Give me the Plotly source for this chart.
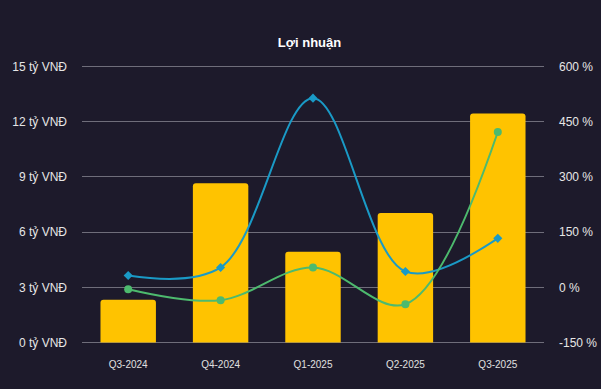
import plotly.graph_objects as go

categories = ["Q3-2024", "Q4-2024", "Q1-2025", "Q2-2025", "Q3-2025"]
profit = [2.33, 8.66, 4.93, 7.04, 12.45]          # tỷ VNĐ
growth_blue = [32, 54, 514, 43, 133]                # %
growth_green = [-5, -35, 54, -46, 422]              # %

left_ticks = [0, 3, 6, 9, 12, 15]
left_labels = [f"{v} tỷ VNĐ" for v in left_ticks]
right_ticks = [-150, 0, 150, 300, 450, 600]
right_labels = [f"{v} %" for v in right_ticks]

BG = "#1d1a2b"
GRID = "#6f6d7a"
fig = go.Figure()
fig.add_trace(go.Bar(x=categories, y=profit, marker=dict(color="#FFC300", line=dict(width=0)),
                     width=0.6, yaxis="y", hoverinfo="skip"))
fig.add_trace(go.Scatter(x=categories, y=growth_blue, yaxis="y2", mode="lines+markers",
                         line=dict(color="#1a9ac6", width=2, shape="spline", smoothing=1.0),
                         marker=dict(symbol="diamond", size=7, color="#1a9ac6")))
fig.add_trace(go.Scatter(x=categories, y=growth_green, yaxis="y2", mode="lines+markers",
                         line=dict(color="#4dba6e", width=2, shape="spline", smoothing=1.0),
                         marker=dict(symbol="circle", size=8, color="#4dba6e")))

fig.update_layout(
    width=601, height=389,
    paper_bgcolor=BG, plot_bgcolor=BG,
    showlegend=False,
    barcornerradius=3,
    margin=dict(l=82, r=57, t=65, b=45, autoexpand=False),
    font=dict(family="Arial, Liberation Sans, sans-serif", color="#e6e6e6"),
    title=dict(text="<b>Lợi nhuận</b>", x=0.515, xanchor="center", y=0.892, yanchor="middle",
               font=dict(size=13, color="#ffffff")),
    xaxis=dict(showgrid=False, zeroline=False, showline=False, ticks="", automargin=False,
               tickfont=dict(size=10, color="#e0e0e0"), ticklabelstandoff=13),
    yaxis=dict(range=[-0.08, 15.08], tickvals=left_ticks, ticktext=left_labels, showgrid=True,
               gridcolor=GRID, gridwidth=1, zeroline=False, showline=False, automargin=False,
               tickfont=dict(size=12, color="#e6e6e6"), ticklabelstandoff=14),
    yaxis2=dict(range=[-154, 604], tickvals=right_ticks, ticktext=right_labels, overlaying="y",
                side="right", showgrid=False, zeroline=False, showline=False, automargin=False,
                tickfont=dict(size=12, color="#e6e6e6"), ticklabelstandoff=14),
)
fig.write_html("out.html", config={"displayModeBar": False},
               post_script="document.body.style.margin='0';document.body.style.background='" + BG + "';")
